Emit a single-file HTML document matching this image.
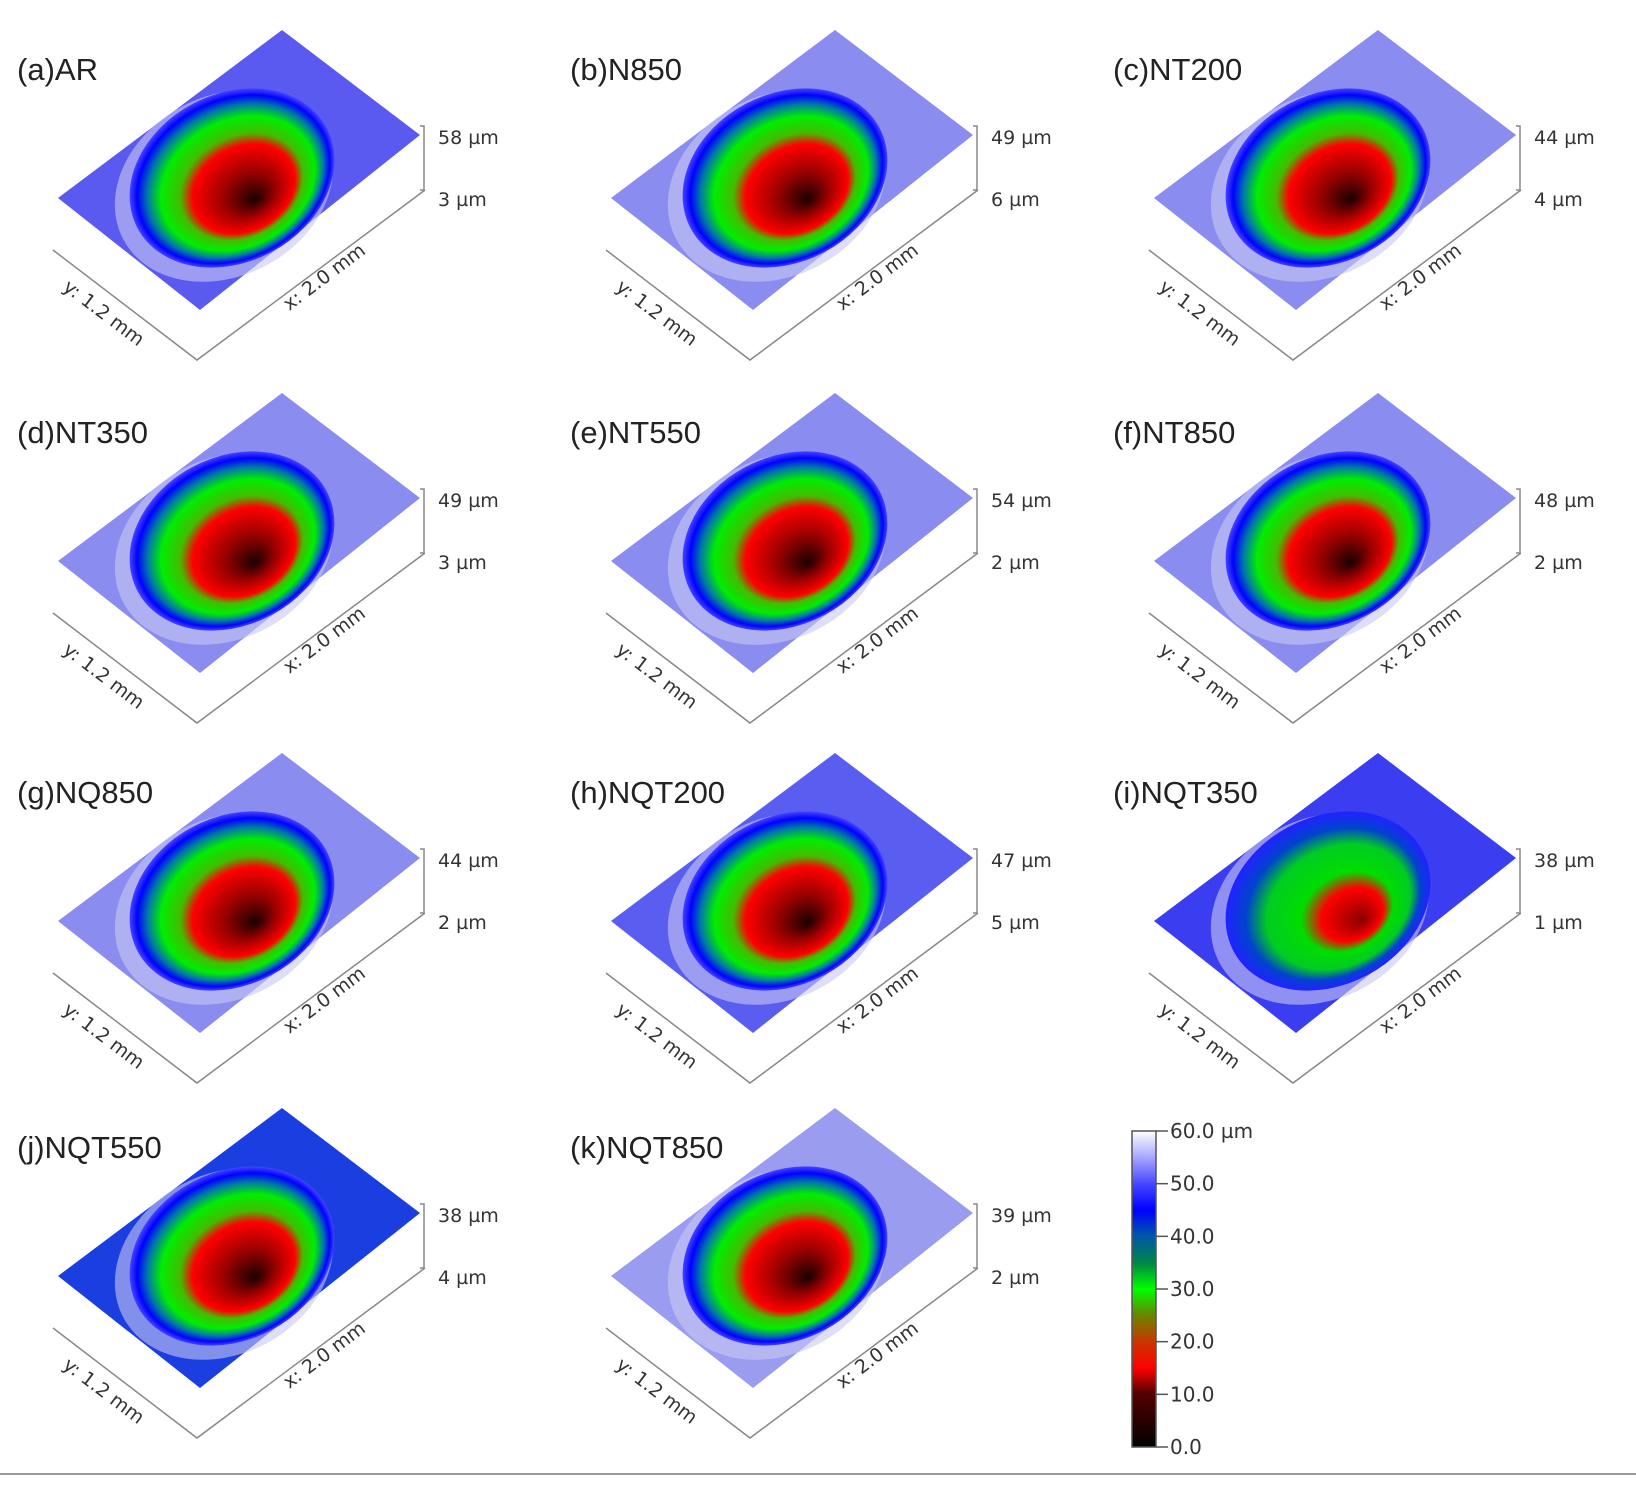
<!DOCTYPE html>
<html><head><meta charset="utf-8"><style>
html,body{margin:0;padding:0;background:#fff;}
svg{display:block;font-family:"DejaVu Sans","Liberation Sans",sans-serif;}
</style></head><body>
<svg id="fig" width="1636" height="1485" viewBox="0 0 1636 1485" xmlns="http://www.w3.org/2000/svg">
<defs>
<linearGradient id="cbar" x1="0" y1="1" x2="0" y2="0">
<stop offset="0" stop-color="#000"/><stop offset="0.17" stop-color="#550000"/><stop offset="0.25" stop-color="#ff0000"/><stop offset="0.33" stop-color="#cc3300"/><stop offset="0.42" stop-color="#668800"/><stop offset="0.5" stop-color="#00ff00"/><stop offset="0.58" stop-color="#008844"/><stop offset="0.67" stop-color="#0055aa"/><stop offset="0.75" stop-color="#0000ff"/><stop offset="0.83" stop-color="#4444ff"/><stop offset="0.92" stop-color="#aaaaff"/><stop offset="1" stop-color="#ffffff"/>
</linearGradient>
<radialGradient id="crater" cx="0.5" cy="0.5" r="0.5" fx="0.55" fy="0.68">
<stop offset="0" stop-color="#1a0000"/><stop offset="0.25" stop-color="#990000"/><stop offset="0.5" stop-color="#ff0000"/><stop offset="0.6" stop-color="#44bb00"/><stop offset="0.75" stop-color="#00ee00"/><stop offset="0.86" stop-color="#0077aa"/><stop offset="0.94" stop-color="#0000ff"/><stop offset="1" stop-color="#4444ff"/>
</radialGradient>
<radialGradient id="craterI" cx="0.5" cy="0.5" r="0.5" fx="0.6" fy="0.7">
<stop offset="0" stop-color="#880000"/><stop offset="0.3" stop-color="#ff0000"/><stop offset="0.45" stop-color="#00dd00"/><stop offset="0.7" stop-color="#00cc22"/><stop offset="0.85" stop-color="#0044cc"/><stop offset="1" stop-color="#2222ff"/>
</radialGradient>
</defs>
<g id="panels"></g>
<g id="colorbar"></g>
<line x1="0" y1="1474" x2="1636" y2="1474" stroke="#999" stroke-width="2"/>
</svg>
<script>
const panelLabels = ["(a)AR","(b)N850","(c)NT200","(d)NT350","(e)NT550","(f)NT850","(g)NQ850","(h)NQT200","(i)NQT350","(j)NQT550","(k)NQT850"];
const zTop = [58,49,44,49,54,48,44,47,38,38,39];
const zBot = [3,6,4,3,2,2,2,5,1,4,2];
const cbTicks = [0,10,20,30,40,50,60];

const NS="http://www.w3.org/2000/svg";
const panelsG=document.getElementById('panels');
function mk(tag,attrs,parent){const e=document.createElementNS(NS,tag);for(const k in attrs)e.setAttribute(k,attrs[k]);parent.appendChild(e);return e;}
const colX=[0,553,1096], rowY=[0,363,723,1078];
const plateCol=["#5a5af0","#8a8cf0","#8a8cf0","#8a8cf0","#8a8cf0","#8a8cf0","#8a8cf0","#5a5ef0","#3a3ef0","#1a3ee0","#9a9cf0"];
panelLabels.forEach((lab,i)=>{
  const dx=colX[i%3], dy=rowY[Math.floor(i/3)];
  const g=mk('g',{transform:`translate(${dx},${dy})`},panelsG);
  
  
  const plate=mk('polygon',{points:"282,30 420,135 200,310 58,198",fill:plateCol[i]},g);
  
  
  const rim=mk('ellipse',{cx:224,cy:186,rx:114,ry:90,transform:"rotate(-28 224 186)",fill:"#c8c8f4",opacity:0.6},g);
  
  
  const cr=mk('ellipse',{cx:232,cy:178,rx:107,ry:84,transform:"rotate(-28 232 178)",fill:i===8?"url(#craterI)":"url(#crater)"},g);
  
  
  const ax=mk('polyline',{points:"53,250 197,360 425,190",fill:"none",stroke:"#888","stroke-width":1.5},g);
  
  
  const zl=mk('polyline',{points:"420,126 424,126 424,190 420,190",fill:"none",stroke:"#888","stroke-width":1.5},g);
  
  
  const t=mk('text',{x:17,y:80,"font-size":31,fill:"#222","font-family":"Liberation Sans, sans-serif"},g);t.textContent=lab;
  
  
  const zt=mk('text',{x:438,y:144,"font-size":19,fill:"#333"},g);zt.textContent=zTop[i]+" µm";
  
  
  const zb=mk('text',{x:438,y:206,"font-size":19,fill:"#333"},g);zb.textContent=zBot[i]+" µm";
  
  
  const yl=mk('text',{x:100,y:318,"font-size":19,fill:"#333","text-anchor":"middle",transform:"rotate(37 100 318)"},g);yl.textContent="y: 1.2 mm";
  
  
  const xl=mk('text',{x:328,y:282,"font-size":19,fill:"#333","text-anchor":"middle",transform:"rotate(-37 328 282)"},g);xl.textContent="x: 2.0 mm";
  
  
});
// colorbar
const cb=document.getElementById('colorbar');
const cbTop=1131, cbBot=1447, cbMin=0, cbMax=60;
function cy(v){return cbBot-(v-cbMin)/(cbMax-cbMin)*(cbBot-cbTop);}
const bar=mk('rect',{x:1132,y:cbTop,width:24,height:cbBot-cbTop,fill:"url(#cbar)",stroke:"#555","stroke-width":1.5},cb);


cbTicks.forEach(v=>{
  const l=mk('line',{x1:1156,x2:1168,y1:cy(v),y2:cy(v),stroke:"#555","stroke-width":1.5},cb);
  
  
  const tx=mk('text',{x:1170,y:cy(v)+7,"font-size":20,fill:"#333"},cb);
  tx.textContent=v.toFixed(1)+(v===cbMax?" µm":"");
  
  
});
</script>
</body></html>
